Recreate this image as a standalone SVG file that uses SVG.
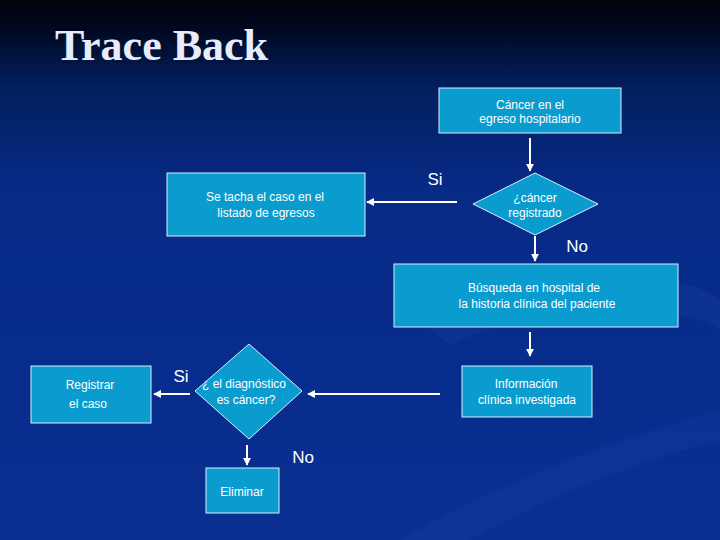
<svg xmlns="http://www.w3.org/2000/svg" width="720" height="540" viewBox="0 0 720 540">
<defs>
<linearGradient id="bg" x1="0" y1="0" x2="0" y2="1">
<stop offset="0" stop-color="#000308"/>
<stop offset="0.06" stop-color="#000a24"/>
<stop offset="0.16" stop-color="#021f5e"/>
<stop offset="0.35" stop-color="#072a86"/>
<stop offset="1" stop-color="#0a2f93"/>
</linearGradient>
<marker id="ah" viewBox="0 0 10 10" refX="9" refY="5" markerWidth="4" markerHeight="4" orient="auto" markerUnits="strokeWidth">
<path d="M0,0 L10,5 L0,10 z" fill="#ffffff"/>
</marker>
<style>
.box{fill:#0b9ccf;stroke:#d6f0fa;stroke-width:1}
.t{font-family:"Liberation Sans",Arial,sans-serif;font-size:12px;fill:#ffffff;text-anchor:middle}
.lbl{font-family:"Liberation Sans",Arial,sans-serif;font-size:17px;fill:#ffffff;text-anchor:middle}
.c{stroke:#ffffff;stroke-width:2;fill:none;marker-end:url(#ah)}
</style>
</defs>
<rect width="720" height="540" fill="url(#bg)"/>
<path d="M420,320 C520,260 690,270 720,300 L720,330 C680,300 540,300 450,345 Z" fill="#1a43a6" opacity="0.25"/>
<path d="M400,540 C520,470 650,430 720,410 L720,440 C640,460 540,500 470,540 Z" fill="#1a43a6" opacity="0.25"/>
<text x="55" y="60" font-family="'Liberation Serif','Times New Roman',serif" font-weight="bold" font-size="44" fill="#e8ecfa">Trace Back</text>

<g id="connectors">
<line class="c" x1="530" y1="138" x2="530" y2="171"/>
<line class="c" x1="457" y1="202" x2="367" y2="202"/>
<line class="c" x1="535" y1="236" x2="535" y2="261"/>
<line class="c" x1="530" y1="332" x2="530" y2="356"/>
<line class="c" x1="440" y1="394" x2="308" y2="394"/>
<line class="c" x1="190" y1="394" x2="154" y2="394"/>
<line class="c" x1="247" y1="445" x2="247" y2="465"/>
</g>
<g id="labels">
<text class="lbl" x="435" y="185">Si</text>
<text class="lbl" x="577" y="252">No</text>
<text class="lbl" x="181" y="382">Si</text>
<text class="lbl" x="303" y="463">No</text>
</g>

<g id="n-egreso">
<rect class="box" x="439" y="88" width="182" height="45"/>
<text class="t" x="530" y="109">Cáncer en el</text>
<text class="t" x="530" y="123">egreso hospitalario</text>
</g>
<g id="n-registrado">
<polygon class="box" points="535,173 598,204 535,235 473,204"/>
<text class="t" x="535" y="202">¿cáncer</text>
<text class="t" x="535" y="217">registrado</text>
</g>
<g id="n-tacha">
<rect class="box" x="167" y="173" width="198" height="63"/>
<text class="t" x="265" y="201">Se tacha el caso en el</text>
<text class="t" x="266" y="217">listado de egresos</text>
</g>
<g id="n-busqueda">
<rect class="box" x="394" y="264" width="284" height="63"/>
<text class="t" x="534" y="292">Búsqueda en hospital de</text>
<text class="t" x="537" y="308">la historia clínica del paciente</text>
</g>
<g id="n-informacion">
<rect class="box" x="462" y="366" width="130" height="51"/>
<text class="t" x="526" y="388">Información</text>
<text class="t" x="527" y="404">clínica investigada</text>
</g>
<g id="n-diagnostico">
<polygon class="box" points="249,344 302,391 249,439 195,391"/>
<text class="t" x="244" y="388">¿ el diagnóstico</text>
<text class="t" x="246" y="404">es cáncer?</text>
</g>
<g id="n-registrar">
<rect class="box" x="31" y="366" width="120" height="57"/>
<text class="t" x="90" y="389">Registrar</text>
<text class="t" x="88" y="408">el caso</text>
</g>
<g id="n-eliminar">
<rect class="box" x="206" y="468" width="73" height="45"/>
<text class="t" x="242" y="496">Eliminar</text>
</g>
</svg>
